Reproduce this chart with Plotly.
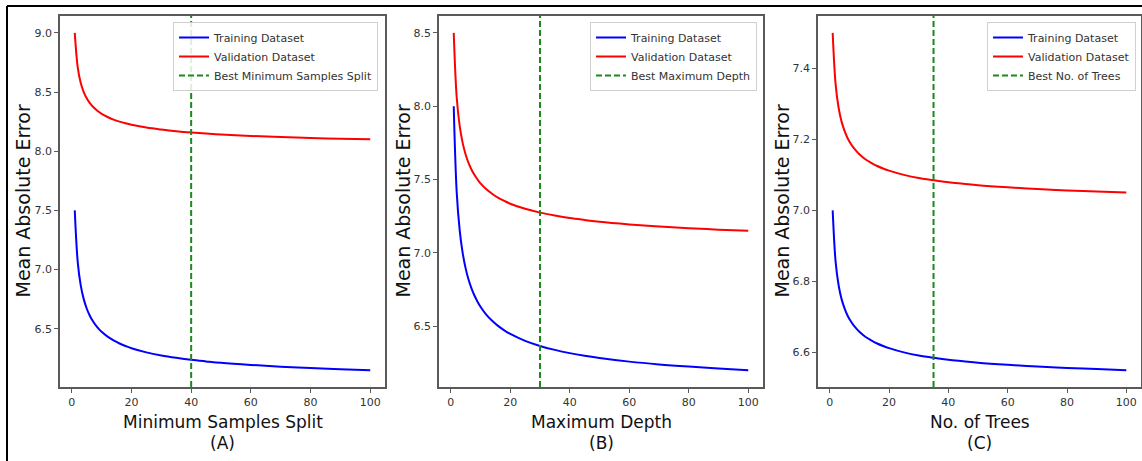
import plotly.graph_objects as go
from plotly.subplots import make_subplots

# ---- data ----
x_vals = [1, 2, 3, 4, 5, 6, 7, 8, 9, 10, 12, 14, 16, 18, 20, 25, 30, 35, 40, 45, 50, 60, 70, 80, 90, 100]

a_valid = [9.000, 8.707, 8.577, 8.500, 8.447, 8.408, 8.378, 8.354, 8.333, 8.316, 8.289, 8.267, 8.250,
           8.236, 8.224, 8.200, 8.183, 8.169, 8.158, 8.149, 8.141, 8.129, 8.120, 8.112, 8.105, 8.100]
a_train = [7.500, 7.061, 6.866, 6.750, 6.671, 6.612, 6.567, 6.530, 6.500, 6.474, 6.433, 6.401, 6.375,
           6.354, 6.335, 6.300, 6.274, 6.254, 6.237, 6.224, 6.212, 6.194, 6.179, 6.168, 6.158, 6.150]

b_valid = [8.500, 8.061, 7.866, 7.750, 7.671, 7.612, 7.567, 7.530, 7.500, 7.474, 7.433, 7.401, 7.375,
           7.354, 7.335, 7.300, 7.274, 7.254, 7.237, 7.224, 7.212, 7.194, 7.179, 7.168, 7.158, 7.150]
b_train = [8.000, 7.414, 7.155, 7.000, 6.894, 6.816, 6.756, 6.707, 6.667, 6.632, 6.577, 6.535, 6.500,
           6.471, 6.447, 6.400, 6.365, 6.338, 6.316, 6.298, 6.283, 6.258, 6.239, 6.224, 6.211, 6.200]

c_valid = [7.500, 7.354, 7.289, 7.250, 7.224, 7.204, 7.189, 7.177, 7.167, 7.158, 7.144, 7.134, 7.125,
           7.118, 7.112, 7.100, 7.091, 7.085, 7.079, 7.075, 7.071, 7.065, 7.060, 7.056, 7.053, 7.050]
c_train = [7.000, 6.854, 6.789, 6.750, 6.724, 6.704, 6.689, 6.677, 6.667, 6.658, 6.644, 6.634, 6.625,
           6.618, 6.612, 6.600, 6.591, 6.585, 6.579, 6.575, 6.571, 6.565, 6.560, 6.556, 6.553, 6.550]

best_values = [40, 30, 35]
best_labels = ["Best Minimum Samples Split", "Best Maximum Depth", "Best No. of Trees"]
x_titles = ["Minimum Samples Split", "Maximum Depth", "No. of Trees"]
panel_tags = ["(A)", "(B)", "(C)"]
y_title = "Mean Absolute Error"
x_ticks = [0, 20, 40, 60, 80, 100]
y_ticks = [
    [6.5, 7.0, 7.5, 8.0, 8.5, 9.0],
    [6.5, 7.0, 7.5, 8.0, 8.5],
    [6.6, 6.8, 7.0, 7.2, 7.4],
]

trains = [a_train, b_train, c_train]
valids = [a_valid, b_valid, c_valid]

# ---- layout geometry ----
W, H = 1142, 461
px_x = [(60, 385), (439, 763), (818, 1141)]
top_px, bot_px = 16, 387
legend_right_px = [378, 757, 1136]
ylabel_x_px = [22, 402, 781]

FONT = "DejaVu Sans"
AX_COL = "#5a5a5a"

fig = make_subplots(rows=1, cols=3)

legend_names = ["legend", "legend2", "legend3"]

for i in range(3):
    tr, va = trains[i], valids[i]
    lo = min(tr + va)
    hi = max(tr + va)
    pad = 0.05 * (hi - lo)
    yr = [lo - pad, hi + pad]
    xr = [1 - 0.05 * 99, 100 + 0.05 * 99]

    fig.add_trace(go.Scatter(x=x_vals, y=tr, mode="lines", name="Training Dataset",
                             line=dict(color="#0000ff", width=2, shape="spline", smoothing=1.0),
                             legend=legend_names[i]), row=1, col=i + 1)
    fig.add_trace(go.Scatter(x=x_vals, y=va, mode="lines", name="Validation Dataset",
                             line=dict(color="#ff0000", width=2, shape="spline", smoothing=1.0),
                             legend=legend_names[i]), row=1, col=i + 1)
    fig.add_trace(go.Scatter(x=[best_values[i], best_values[i]], y=yr, mode="lines",
                             name=best_labels[i],
                             line=dict(color="#1a8a1a", width=2, dash="6px,3px"),
                             legend=legend_names[i]), row=1, col=i + 1)

    xd = [px_x[i][0] / W, px_x[i][1] / W]
    yd = [1 - bot_px / H, 1 - top_px / H]
    fig.update_xaxes(row=1, col=i + 1, domain=xd, range=xr, tickvals=x_ticks,
                     showgrid=False, zeroline=False, showline=True, mirror=True,
                     linecolor=AX_COL, linewidth=1.5, ticks="outside", ticklen=4,
                     tickcolor=AX_COL, tickfont=dict(family=FONT, size=11, color="#333333"))
    fig.update_yaxes(row=1, col=i + 1, domain=yd, range=yr, tickvals=y_ticks[i],
                     tickformat=".1f",
                     showgrid=False, zeroline=False, showline=True, mirror=True,
                     linecolor=AX_COL, linewidth=1.5, ticks="outside", ticklen=4,
                     tickcolor=AX_COL, tickfont=dict(family=FONT, size=11, color="#333333"))

    cx = (px_x[i][0] + px_x[i][1]) / 2 / W
    fig.add_annotation(x=cx, y=1 - 422 / H, xref="paper", yref="paper", text=x_titles[i],
                       showarrow=False, xanchor="center", yanchor="middle",
                       font=dict(family=FONT, size=17, color="#111111"))
    fig.add_annotation(x=cx, y=1 - 443 / H, xref="paper", yref="paper", text=panel_tags[i],
                       showarrow=False, xanchor="center", yanchor="middle",
                       font=dict(family=FONT, size=17, color="#111111"))
    fig.add_annotation(x=ylabel_x_px[i] / W, y=1 - (top_px + bot_px) / 2 / H, xref="paper", yref="paper",
                       text=y_title, textangle=-90, showarrow=False,
                       xanchor="center", yanchor="middle",
                       font=dict(family=FONT, size=19, color="#111111"))

legend_common = dict(
    xanchor="right", yanchor="top", y=1 - 22 / H,
    bgcolor="rgba(255,255,255,0.85)", bordercolor="#d0d0d0", borderwidth=1,
    font=dict(family=FONT, size=11, color="#333333"), tracegroupgap=0,
    itemwidth=30,
)
fig.update_layout(
    legend=dict(x=legend_right_px[0] / W, **legend_common),
    legend2=dict(x=legend_right_px[1] / W, **legend_common),
    legend3=dict(x=legend_right_px[2] / W, **legend_common),
)

# outer frame (top and left edges visible in the reference)
fig.add_shape(type="line", xref="paper", yref="paper", x0=7 / W, x1=1.0, y0=1 - 6 / H, y1=1 - 6 / H,
              line=dict(color="#000000", width=2))
fig.add_shape(type="line", xref="paper", yref="paper", x0=7 / W, x1=7 / W, y0=0, y1=1 - 6 / H,
              line=dict(color="#000000", width=2))

fig.update_layout(
    width=W, height=H, autosize=False,
    margin=dict(l=0, r=0, t=0, b=0),
    paper_bgcolor="white", plot_bgcolor="white",
    showlegend=True,
)

fig.write_html("out.html")
